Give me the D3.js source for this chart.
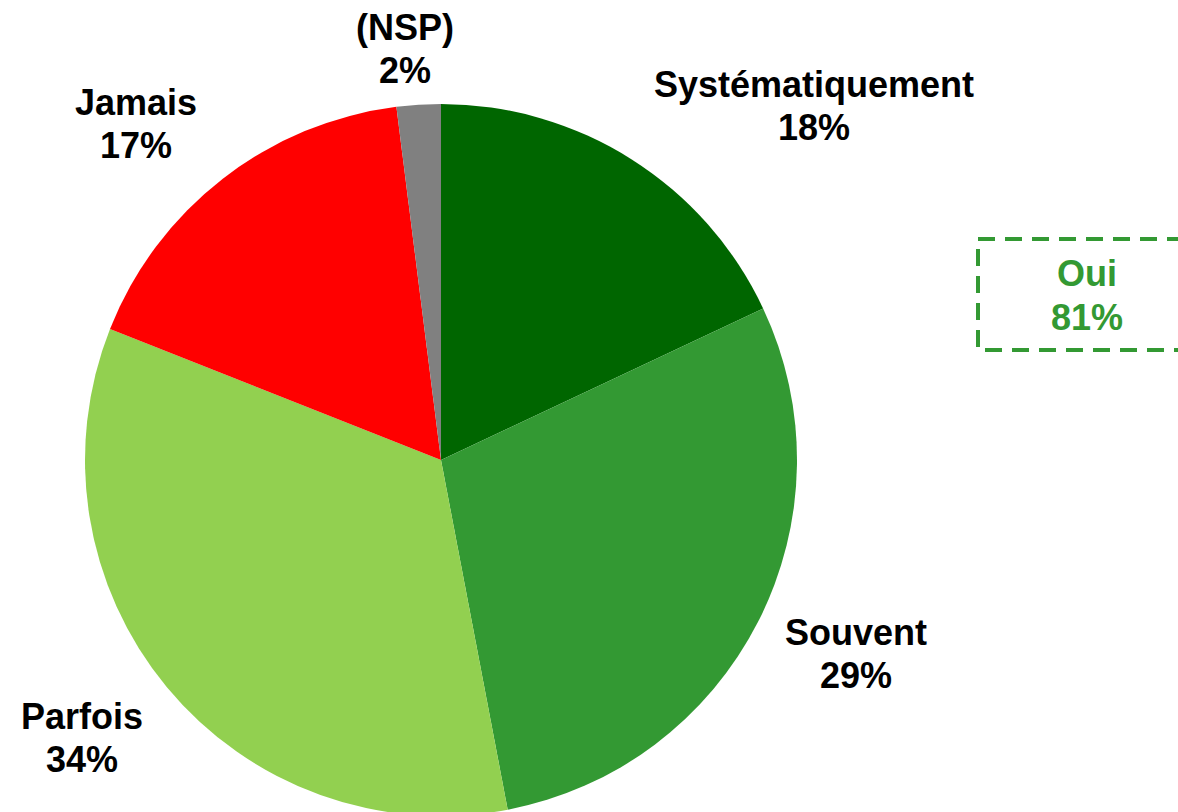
<!DOCTYPE html>
<html>
<head>
<meta charset="utf-8">
<script src="https://cdn.jsdelivr.net/npm/d3@7"></script>
<style>
  body { margin: 0; background: #fff; }
  text { font-family: "Liberation Sans", Arial, sans-serif; font-weight: bold; }
</style>
</head>
<body>
<svg id="chart" width="1178" height="812"></svg>
<script>
// Data (clockwise from 12 o'clock)
const categories = ["Systématiquement", "Souvent", "Parfois", "Jamais", "(NSP)"];
const values = [18, 29, 34, 17, 2];
const colors = ["#006600", "#339933", "#92d050", "#ff0000", "#808080"];
// label anchor points (first line baseline)
const labelX = [814, 856, 82, 136, 405];
const labelY = [97, 645, 729, 115, 40];

const summaryLabel = "Oui";
const summaryValue = 81;

const width = 1178, height = 812;
const cx = 441, cy = 460, radius = 356;
const fontSize = 36;

const svg = d3.select("#chart");

const pie = d3.pie().sort(null).value(d => d.value);
const arc = d3.arc().innerRadius(0).outerRadius(radius);

const data = categories.map((c, i) => ({ name: c, value: values[i], color: colors[i], lx: labelX[i], ly: labelY[i] }));

const g = svg.append("g").attr("transform", "translate(" + cx + "," + cy + ")");

g.selectAll("path")
  .data(pie(data))
  .enter()
  .append("path")
  .attr("d", arc)
  .attr("fill", d => d.data.color);

// Labels: name + percentage
const labels = svg.selectAll(".lbl")
  .data(data)
  .enter()
  .append("text")
  .attr("class", "lbl")
  .attr("text-anchor", "middle")
  .attr("font-size", fontSize)
  .attr("fill", "#000");

labels.append("tspan")
  .attr("x", d => d.lx)
  .attr("y", d => d.ly)
  .text(d => d.name);

labels.append("tspan")
  .attr("x", d => d.lx)
  .attr("y", d => d.ly + 43)
  .text(d => d.value + "%");

// Dashed summary box
const box = svg.append("g");
box.append("rect")
  .attr("x", 978)
  .attr("y", 239)
  .attr("width", 240)
  .attr("height", 111)
  .attr("fill", "none")
  .attr("stroke", "#339933")
  .attr("stroke-width", 4)
  .attr("stroke-dasharray", "17,10");

box.append("text")
  .attr("x", 1087)
  .attr("y", 286)
  .attr("text-anchor", "middle")
  .attr("font-size", fontSize)
  .attr("fill", "#339933")
  .text(summaryLabel);

box.append("text")
  .attr("x", 1087)
  .attr("y", 330)
  .attr("text-anchor", "middle")
  .attr("font-size", fontSize)
  .attr("fill", "#339933")
  .text(summaryValue + "%");
</script>
</body>
</html>
